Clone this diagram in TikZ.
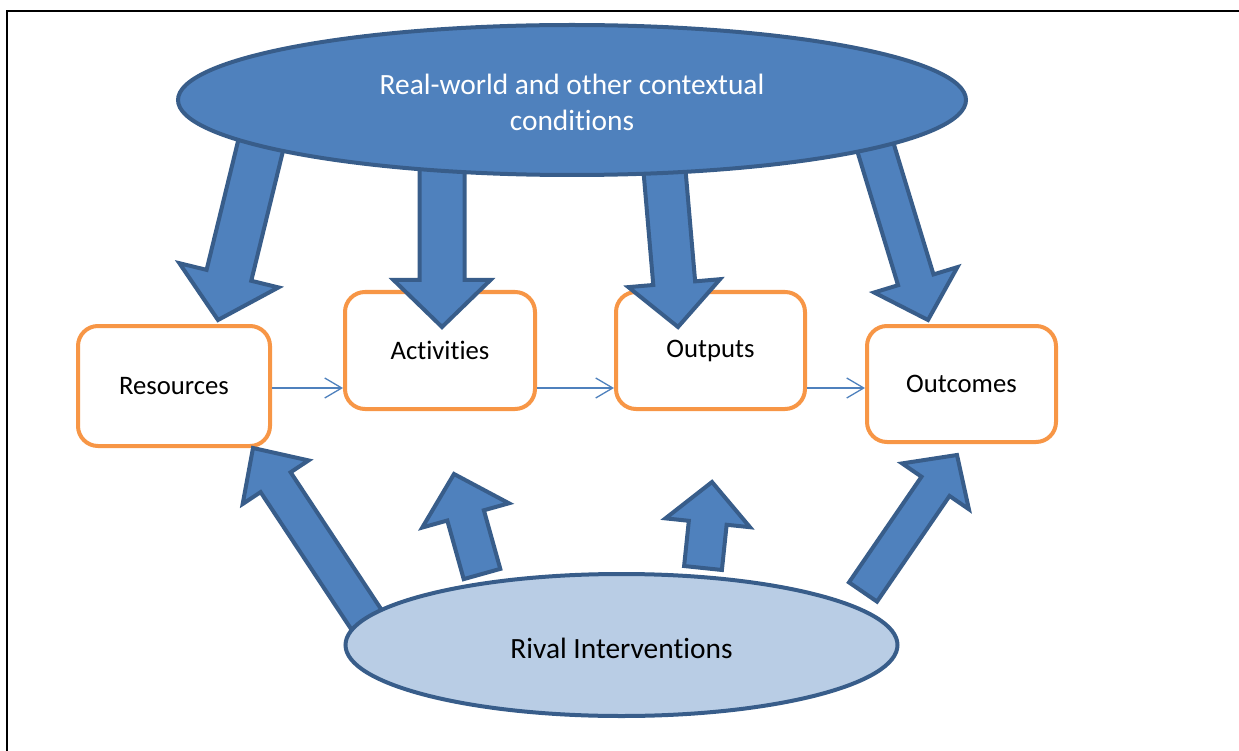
\documentclass[tikz,border=0pt]{standalone}
\usepackage{fontspec}
\setmainfont{Carlito}[Ligatures=NoCommon]
\usetikzlibrary{calc,shapes.geometric,arrows.meta}
\definecolor{accblue}{HTML}{4F81BD}
\definecolor{darkblue}{HTML}{385D8A}
\definecolor{lightblue}{HTML}{B9CDE5}
\definecolor{accorange}{HTML}{F79646}
\tikzset{
  barrow/.style={fill=accblue,draw=darkblue,line width=4pt,line join=miter},
  stagebox/.style={draw=accorange,fill=white,line width=4pt,rounded corners=20pt,inner sep=0pt},
  bigoval/.style={ellipse,draw=darkblue,line width=4pt,inner sep=0pt},
  thinlink/.style={draw=accblue,line width=1.3pt,-{Straight Barb[length=17pt,width=20pt,line width=1.3pt]}},
  lbl/.style={font=\fontsize{26.7}{36}\selectfont,align=center},
  ovallbl/.style={font=\fontsize{29.4}{36}\selectfont,align=center}
}
\newcommand{\blockarrow}[5]{%
  \coordinate (bah) at ($(#2)!#5!(#1)$);
  \draw[barrow] ($(#1)!#3!90:(#2)$) -- ($(bah)!#3!-90:(#1)$) -- ($(bah)!#4!-90:(#1)$) -- (#2)
     -- ($(bah)!#4!90:(#1)$) -- ($(bah)!#3!90:(#1)$) -- ($(#1)!#3!-90:(#2)$) -- cycle;}
\begin{document}
\begin{tikzpicture}[x=1pt,y=-1pt]
\useasboundingbox (0,0) rectangle (1239,751);
\draw[line width=2pt] (1239,11) -- (7,11) -- (7,751);
% stage boxes
\node[stagebox,minimum width=192pt,minimum height=120pt,lbl] (res) at (174,386) {Resources};
\node[stagebox,minimum width=190pt,minimum height=117pt,lbl] (act) at (440,350.5) {Activities};
\node[stagebox,minimum width=189pt,minimum height=117pt,lbl] (out) at (710.5,350.5) {Outputs};
\node[stagebox,minimum width=189pt,minimum height=116pt,lbl] (oc) at (961.5,384) {Outcomes};
% thin links
\draw[thinlink] ($(res.east)+(0,2)$) -- ($(act.west|-res.east)+(0,2)$);
\draw[thinlink] ($(act.east)+(0,37.5)$) -- ($(out.west)+(0,37.5)$);
\draw[thinlink] ($(out.east)+(0,37.5)$) -- ($(oc.west)+(0,4)$);
% block arrow anchors
\coordinate (b1) at (262,140); \coordinate (t1) at (218,320);
\coordinate (b2) at (442,165); \coordinate (t2) at (442,327);
\coordinate (b3) at (664,165); \coordinate (t3) at (678,327);
\coordinate (b4) at (872,136); \coordinate (t4) at (928,320);
\coordinate (b5) at (372,628); \coordinate (t5) at (253,448);
\coordinate (b6) at (482,574); \coordinate (t6) at (454,474);
\coordinate (b7) at (703,568); \coordinate (t7) at (712,482);
\coordinate (b8) at (863,592); \coordinate (t8) at (957,455);
\blockarrow{b1}{t1}{23pt}{51pt}{46pt}
\blockarrow{b2}{t2}{22.5pt}{48.5pt}{47pt}
\blockarrow{b3}{t3}{21pt}{46pt}{44pt}
\blockarrow{b4}{t4}{18.5pt}{43.5pt}{42pt}
\blockarrow{b5}{t5}{18pt}{39.5pt}{41pt}
\blockarrow{b6}{t6}{19pt}{45pt}{43pt}
\blockarrow{b7}{t7}{19pt}{42.5pt}{41pt}
\blockarrow{b8}{t8}{17pt}{40.5pt}{38pt}
% ovals
\node[bigoval,fill=accblue,minimum width=788pt,minimum height=150pt] (ctx) at (572,100) {};
\node[ovallbl,text=white] (ctxlbl) at (572,102) {Real-world and other contextual\\conditions};
\node[bigoval,fill=lightblue,minimum width=552pt,minimum height=142pt] (rival) at (621.5,645) {};
\node[ovallbl] (rivlbl) at (621.5,648) {Rival Interventions};
\end{tikzpicture}
\end{document}
